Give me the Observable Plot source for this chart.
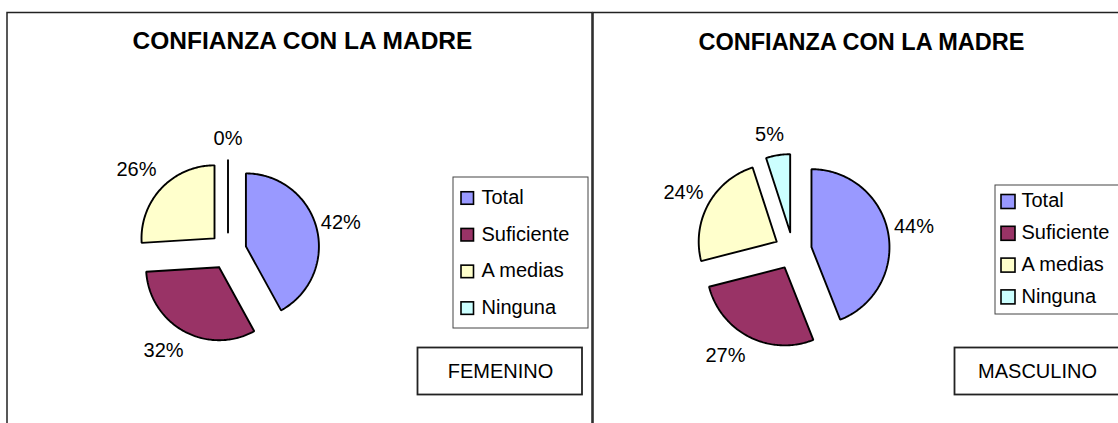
<!DOCTYPE html>
<html><head><meta charset="utf-8">
<script src="https://cdn.jsdelivr.net/npm/d3@7"></script>
<script src="https://cdn.jsdelivr.net/npm/@observablehq/plot@0.6"></script>
<style>
html,body{margin:0;padding:0;background:#fff;}
#chart{position:relative;width:1118px;height:423px;overflow:hidden;background:#fff;}
</style></head><body><div id="chart"></div>
<script>
// ---- data ----
const categories = ["Total", "Suficiente", "A medias", "Ninguna"];
const femenino = [42, 32, 26, 0];
const masculino = [44, 27, 24, 5];
const colors = ["#9999FF", "#993366", "#FFFFCC", "#CCFFFF"];
const titles = ["CONFIANZA CON LA MADRE", "CONFIANZA CON LA MADRE"];
const groups = ["FEMENINO", "MASCULINO"];

// ---- layout ----
const W = 1118, H = 423;
const panels = [
  {name: groups[0], title: titles[0], values: femenino,
   frame: [7, 12.5, 592, 440], titleX: 302, titleY: 40.5, titleSize: 24.5,
   cx: 227.5, cy: 250.5, r: 73, explode: 18.5,
   nudge: [[-3.3, 1.5], [-7.8, -3.6], [-3.8, 1.3], [0, -3]],
   legend: {x1: 453, y1: 177, x2: 588, y2: 328, sx: 461, sw: 12.5, y0: 198, dy: 36.7, tx: 481},
   tag: {x1: 417.5, y1: 347.5, x2: 582, y2: 394.5, tx: 500, ty: 371}},
  {name: groups[1], title: titles[1], values: masculino,
   frame: [593, 12.5, 1130, 440], titleX: 861, titleY: 41.8, titleSize: 23.5,
   cx: 792.6, cy: 250.2, r: 78, explode: 18.7,
   nudge: [[-1.5, -0.3], [-12, -3.8], [0.8, 3], [-5.3, -0.8]],
   legend: {x1: 995, y1: 185, x2: 1130, y2: 314, sx: 1001, sw: 14, y0: 201.5, dy: 31.8, tx: 1021},
   tag: {x1: 954.5, y1: 347.5, x2: 1130, y2: 394.5, tx: 1037, ty: 371}}
];

const polys = [], labels = [], swatches = [], legendText = [];
panels.forEach((p, pi) => {
  const total = d3.sum(p.values);
  let cum = 0;
  p.values.forEach((v, i) => {
    const a0 = 2 * Math.PI * cum / total; cum += v;
    const a1 = 2 * Math.PI * cum / total;
    const mid = (a0 + a1) / 2;
    const ux = Math.sin(mid), uy = -Math.cos(mid);
    const ax = p.cx + p.explode * ux, ay = p.cy + p.explode * uy;
    const key = pi + "-" + i, cat = categories[i];
    polys.push({key, cat, x: ax, y: ay});
    const n = Math.max(1, Math.ceil((a1 - a0) / (Math.PI / 180)));
    for (let k = 0; k <= n; k++) {
      const a = a0 + (a1 - a0) * k / n;
      polys.push({key, cat, x: ax + p.r * Math.sin(a), y: ay - p.r * Math.cos(a)});
    }
    polys.push({key, cat, x: ax, y: ay});
    const text = Math.round(100 * v / total) + "%";
    const hw = text.length >= 3 ? 20 : 14;
    const dist = p.r + p.explode + 6 + Math.abs(ux) * hw + Math.abs(uy) * 12;
    const [nx, ny] = p.nudge[i];
    labels.push({x: p.cx + dist * ux + nx, y: p.cy + dist * uy + ny, text});
    const L = p.legend;
    const yc = L.y0 + i * L.dy;
    swatches.push({cat, x1: L.sx, x2: L.sx + L.sw, y1: yc - L.sw / 2, y2: yc + L.sw / 2, pi});
    legendText.push({x: L.tx, y: yc - 1, text: cat});
  });
});

const chart = Plot.plot({
  width: W, height: H, margin: 0,
  x: {domain: [0, W], range: [0, W], axis: null},
  y: {domain: [0, H], range: [0, H], axis: null},
  color: {domain: categories, range: colors},
  style: {fontFamily: "'Liberation Sans', Arial, sans-serif", background: "#fff", overflow: "hidden"},
  marks: [
    Plot.rect(panels, {x1: d => d.frame[0], y1: d => d.frame[1], x2: d => d.frame[2], y2: d => d.frame[3], fill: "none", stroke: "#222", strokeWidth: 1.5}),
    Plot.text(panels, {x: "titleX", y: "titleY", text: "title", fontWeight: "bold", fontSize: d => d.titleSize, fill: "#000"}),
    Plot.line(polys, {x: "x", y: "y", z: "key", fill: "cat", stroke: "#000", strokeWidth: 1.9, strokeLinejoin: "miter", curve: "linear"}),
    Plot.text(labels, {x: "x", y: "y", text: "text", fontSize: 20, fill: "#000"}),
    Plot.rect(panels, {x1: d => d.legend.x1, y1: d => d.legend.y1, x2: d => d.legend.x2, y2: d => d.legend.y2, fill: "#fff", stroke: "#444", strokeWidth: 1}),
    Plot.rect(swatches, {x1: "x1", x2: "x2", y1: "y1", y2: "y2", fill: "cat", stroke: "#000", strokeWidth: 1.6}),
    Plot.text(legendText, {x: "x", y: "y", text: "text", fontSize: 20, textAnchor: "start", fill: "#000"}),
    Plot.rect(panels, {x1: d => d.tag.x1, y1: d => d.tag.y1, x2: d => d.tag.x2, y2: d => d.tag.y2, fill: "#fff", stroke: "#222", strokeWidth: 1.8}),
    Plot.text(panels, {x: d => d.tag.tx, y: d => d.tag.ty, text: "name", fontSize: 20, fill: "#000"})
  ]
});
document.getElementById("chart").appendChild(chart);
</script></body></html>
